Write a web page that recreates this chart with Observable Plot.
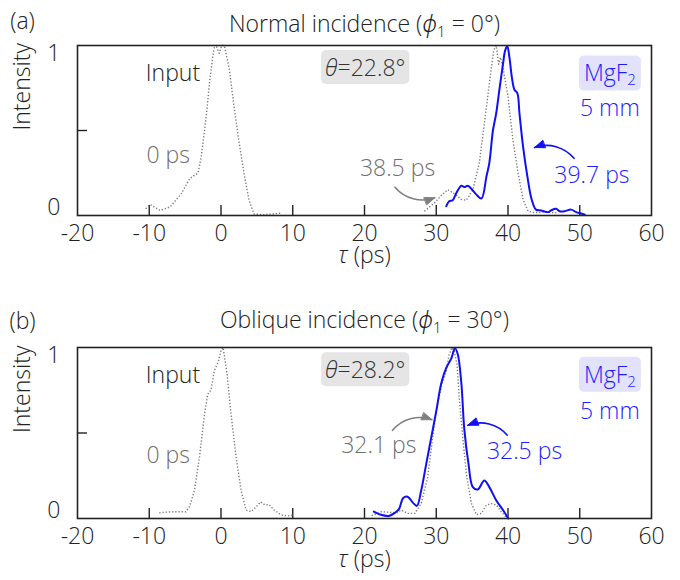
<!DOCTYPE html>
<html><head><meta charset="utf-8">
<script src="https://cdn.jsdelivr.net/npm/d3@7"></script>
<script src="https://cdn.jsdelivr.net/npm/@observablehq/plot@0.6"></script>
<style>
body{margin:0;background:#fff;}
#chart{width:680px;height:580px;}
svg{display:block;}
</style></head><body><div id="chart"></div>
<script>
// ---------- tick values ----------
const X_LABELS = [-20, -10, 0, 10, 20, 30, 40, 50, 60];
const X_INNER = [-10, 0, 10, 20, 30, 40, 50];
const Y_LABELS = [0, 1];
const Y_INNER = [0.5];

// ---------- panel (a): normal incidence ----------
const inputA = [[-10.5,-0.006],[-9.85,0.02],[-8.5,-0.017],[-7.1,0.005],[-5.5,0.093],[-4.35,0.19],[-3.2,0.225],[-2.75,0.33],[-2.06,0.59],[-1.6,0.81],[-1.15,0.98],[-0.92,1.04],[-0.6,1.04],[-0.25,1.0],[0.1,1.05],[0.46,1.05],[1.15,0.9],[1.83,0.65],[2.5,0.43],[3.2,0.225],[3.9,0.05],[4.6,-0.04],[5.9,-0.045],[7.3,-0.04],[8.25,-0.035]];
const refA = [[28.35,-0.022],[29.75,0.031],[30.7,0.079],[31.6,0.117],[32.5,0.092],[33.5,0.053],[34.2,0.049],[35.1,0.117],[36.0,0.289],[36.7,0.544],[37.4,0.804],[38.0,1.017],[38.35,1.05],[38.7,0.929],[38.95,0.973],[39.3,0.907],[40.0,0.72],[40.7,0.434],[41.4,0.225],[42.1,0.053],[42.8,-0.022],[43.7,-0.032],[45.1,-0.028],[47.0,-0.032]];
const mgA = [[31.4,0.01],[31.8,0.042],[32.3,0.049],[32.8,0.096],[33.5,0.143],[33.9,0.134],[34.4,0.143],[34.9,0.122],[35.6,0.085],[36.3,0.06],[37.0,0.203],[37.4,0.291],[37.9,0.5],[38.35,0.61],[38.8,0.764],[39.3,0.929],[39.6,1.017],[39.9,1.045],[40.2,0.973],[40.55,0.841],[40.9,0.764],[41.3,0.742],[41.6,0.61],[42.1,0.396],[42.7,0.203],[43.3,0.053],[43.9,-0.012],[44.6,-0.017],[45.6,-0.028],[46.0,-0.017],[46.7,-0.006],[47.2,-0.022],[47.9,-0.022],[48.8,-0.012],[49.5,-0.028],[50.2,-0.037],[50.7,-0.045]];

// ---------- panel (b): oblique incidence ----------
const inputB = [[-8.6,-0.014],[-7.4,-0.008],[-6.05,-0.006],[-4.9,-0.007],[-4.4,0.025],[-3.7,0.13],[-3.0,0.346],[-2.3,0.62],[-1.85,0.75],[-1.4,0.775],[-0.93,0.9],[-0.37,0.96],[0.0,1.03],[0.3,1.05],[0.84,0.88],[1.4,0.62],[2.1,0.346],[2.8,0.13],[3.5,0.003],[4.2,-0.006],[4.9,0.025],[5.5,0.057],[6.1,0.038],[6.7,0.04],[7.4,0.005],[8.4,-0.028],[9.3,-0.033],[10.2,-0.028]];
const refB = [[21.0,-0.032],[22.4,-0.006],[23.5,-0.011],[24.6,-0.011],[25.1,0.005],[26.0,-0.017],[27.0,-0.017],[27.9,0.046],[28.8,0.214],[29.5,0.47],[30.0,0.64],[30.7,0.8],[31.4,0.9],[31.8,1.006],[32.2,1.05],[32.5,1.028],[32.9,0.94],[33.2,0.73],[33.7,0.47],[34.2,0.236],[34.9,0.046],[35.6,-0.025],[36.3,-0.017],[37.0,0.036],[37.7,0.046],[38.4,0.036],[39.05,-0.006],[39.7,-0.039]];
const mgB = [[21.3,-0.006],[22.4,-0.028],[23.5,-0.032],[24.3,-0.011],[24.8,0.01],[25.4,0.082],[26.0,0.09],[26.8,0.049],[27.3,0.031],[27.9,0.13],[28.6,0.3],[29.3,0.47],[30.0,0.64],[30.7,0.82],[31.4,0.92],[32.1,0.98],[32.6,1.045],[33.0,1.006],[33.5,0.82],[33.9,0.53],[34.5,0.3],[35.1,0.152],[35.8,0.137],[36.7,0.195],[37.4,0.152],[38.35,0.068],[39.3,0.005],[40.05,-0.05]];

// ---------- annotation texts ----------
const titles = ["Normal incidence (ϕ1 = 0°)", "Oblique incidence (ϕ1 = 30°)"];
const tags = ["(a)", "(b)"];
const thetas = ["θ=22.8°", "θ=28.2°"];
const notesA = [
  {t:-6.7, v:0.87, label:"Input", kind:"dark"},
  {t:-7.35, v:0.34, label:"0 ps", kind:"gray"},
  {t:24.6, v:0.254, label:"38.5 ps", kind:"gray"},
  {t:51.7, v:0.21, label:"39.7 ps", kind:"blue"},
  {t:54.2, v:0.64, label:"5 mm", kind:"blue"}
];
const notesB = [
  {t:-6.7, v:0.87, label:"Input", kind:"dark"},
  {t:-7.35, v:0.357, label:"0 ps", kind:"gray"},
  {t:22.0, v:0.42, label:"32.1 ps", kind:"gray"},
  {t:42.3, v:0.378, label:"32.5 ps", kind:"blue"},
  {t:54.2, v:0.635, label:"5 mm", kind:"blue"}
];
const thetaPos = [{t:20.1, v:0.9}, {t:20.1, v:0.9}];
const mgPos = [{t:54.2, v:0.865}, {t:54.2, v:0.87}];
const arrowsA = [
  {t1:24.25, v1:0.133, t2:29.8, v2:0.065, kind:"gray", bend:-35},
  {t1:49.2, v1:0.32, t2:43.7, v2:0.39, kind:"blue", bend:-35}
];
const arrowsB = [
  {t1:23.9, v1:0.517, t2:29.4, v2:0.586, kind:"gray", bend:35},
  {t1:39.9, v1:0.486, t2:34.4, v2:0.55, kind:"blue", bend:-35}
];

// ---------- styling ----------
const FONT = "'Open Sans', 'Noto Sans', sans-serif";
const FS = 23;
const GRAY_LINE = "#7a7a7a";
const GRAY_TEXT = "#6e6e6e";
const DARK = "#222222";
const BLUE = "#1010f5";
const BLUE_TEXT = "#1c1cff";
const COLORS = {dark: DARK, gray: GRAY_TEXT, blue: BLUE_TEXT};

const RICH = {
  "Normal incidence (ϕ1 = 0°)": 'Normal incidence (<tspan font-style="italic">ϕ</tspan><tspan dy="5" font-size="15">1</tspan><tspan dy="-5"> = 0°)</tspan>',
  "Oblique incidence (ϕ1 = 30°)": 'Oblique incidence (<tspan font-style="italic">ϕ</tspan><tspan dy="5" font-size="15">1</tspan><tspan dy="-5"> = 30°)</tspan>',
  "θ=22.8°": '<tspan font-style="italic">θ</tspan>=22.8°',
  "θ=28.2°": '<tspan font-style="italic">θ</tspan>=28.2°',
  "MgF2": 'MgF<tspan dy="4" font-size="15">2</tspan>',
  "τ (ps)": '<tspan font-style="italic">τ</tspan> (ps)'
};

function makePanel(cfg) {
  const W = 680, ML = 77, MR = 29;
  const fh = cfg.h - cfg.mt - cfg.mb;
  const fw = W - ML - MR;
  const common = {fontSize: FS, fontWeight: 300, lineAnchor: "middle"};
  const txt = (kind, notes) => Plot.text(notes.filter(d => d.kind === kind), {
    x: "t", y: "v", text: "label", fill: COLORS[kind], ...common
  });
  const arrow = (a) => Plot.arrow([a], {
    x1: "t1", y1: "v1", x2: "t2", y2: "v2", bend: a.bend,
    stroke: a.kind === "blue" ? BLUE : "#808080", strokeWidth: 1.6, headLength: 10, headAngle: 42,
    className: "ann-arrow"
  });
  const dotted = {x: d => d[0], y: d => d[1], stroke: GRAY_LINE, strokeWidth: 1.4, strokeDasharray: "1.3,1.9", strokeLinecap: "butt"};
  return Plot.plot({
    width: W, height: cfg.h,
    marginLeft: ML, marginRight: MR, marginTop: cfg.mt, marginBottom: cfg.mb,
    style: {fontFamily: FONT, fontSize: FS + "px", fontWeight: 300, background: "#fff", color: DARK},
    x: {domain: [-20, 60]},
    y: {domain: [-0.05, 1.05]},
    marks: [
      Plot.axisX(X_LABELS, {tickSize: 0, tickPadding: 9, fontSize: FS, label: null, fill: DARK, tickFormat: d => String(d)}),
      Plot.axisY(Y_LABELS, {tickSize: 0, tickPadding: 17, fontSize: FS, label: null, fill: DARK, tickFormat: d => String(d)}),
      Plot.tickX(X_INNER, {x: d => d, insetTop: fh - 10, stroke: DARK, strokeWidth: 1.4}),
      Plot.tickY(Y_INNER, {y: d => d, insetRight: fw - 10, stroke: DARK, strokeWidth: 1.4}),
      Plot.line(cfg.input, dotted),
      Plot.line(cfg.ref, dotted),
      Plot.line(cfg.mg, {x: d => d[0], y: d => d[1], stroke: BLUE, strokeWidth: 2, curve: "catmull-rom"}),
      ...cfg.arrows.map(arrow),
      txt("dark", cfg.notes), txt("gray", cfg.notes), txt("blue", cfg.notes),
      Plot.text([cfg.theta], {x: () => cfg.thetaPos.t, y: () => cfg.thetaPos.v, text: d => d, fill: "#333", ...common, className: "box-theta"}),
      Plot.text(["MgF2"], {x: () => cfg.mgPos.t, y: () => cfg.mgPos.v, text: d => d, fill: BLUE_TEXT, ...common, className: "box-mg"}),
      Plot.text([cfg.title], {frameAnchor: "top", dy: cfg.titleDy, fill: DARK, ...common}),
      Plot.text([cfg.tag], {frameAnchor: "top-left", textAnchor: "middle", dx: -55, dy: cfg.tagDy, fill: DARK, ...common}),
      Plot.text(["Intensity"], {frameAnchor: "left", rotate: -90, dx: -55, fill: DARK, ...common}),
      Plot.text(["τ (ps)"], {frameAnchor: "bottom", dy: cfg.tauDy, fill: DARK, ...common}),
      Plot.frame({stroke: DARK, strokeWidth: 1.6})
    ]
  });
}

const host = document.getElementById("chart");
const pa = makePanel({h: 290, mt: 45, mb: 75, title: titles[0], tag: tags[0], theta: thetas[0],
  input: inputA, ref: refA, mg: mgA, notes: notesA, arrows: arrowsA, thetaPos: thetaPos[0], mgPos: mgPos[0], titleDy: -21, tagDy: -24, tauDy: 40});
const pb = makePanel({h: 290, mt: 57, mb: 62, title: titles[1], tag: tags[1], theta: thetas[1],
  input: inputB, ref: refB, mg: mgB, notes: notesB, arrows: arrowsB, thetaPos: thetaPos[1], mgPos: mgPos[1], titleDy: -27, tagDy: -26, tauDy: 41});
host.appendChild(pa);
host.appendChild(pb);

for (const svg of [pa, pb]) {
  d3.select(svg).selectAll("text").each(function () {
    const s = this.textContent;
    if (RICH[s]) this.innerHTML = RICH[s];
  });
  const boxes = [["g.box-theta text", "#e5e5e5", 4, 1], ["g.box-mg text", "#e2e2fb", 5, 1]];
  for (const [sel, fill, px, py] of boxes) {
    d3.select(svg).selectAll(sel).each(function () {
      const b = this.getBBox();
      const tr = this.getAttribute("transform");
      const r = document.createElementNS("http://www.w3.org/2000/svg", "rect");
      r.setAttribute("x", b.x - px); r.setAttribute("y", b.y - py);
      r.setAttribute("width", b.width + 2 * px); r.setAttribute("height", b.height + 2 * py);
      r.setAttribute("rx", 5); r.setAttribute("fill", fill);
      if (tr) r.setAttribute("transform", tr);
      this.parentNode.insertBefore(r, this);
    });
  }
  // turn the open arrowheads into filled triangles
  d3.select(svg).selectAll("g.ann-arrow path").each(function () {
    const d = this.getAttribute("d");
    const k = d.indexOf("M", 1);
    if (k < 0) return;
    const stroke = this.getAttribute("stroke") || this.parentNode.getAttribute("stroke");
    this.setAttribute("d", d.slice(0, k));
    const head = document.createElementNS("http://www.w3.org/2000/svg", "path");
    head.setAttribute("d", d.slice(k) + "Z");
    head.setAttribute("fill", stroke);
    head.setAttribute("stroke", stroke);
    head.setAttribute("stroke-width", 1);
    head.setAttribute("stroke-linejoin", "miter");
    this.parentNode.appendChild(head);
  });
}
</script>
</body></html>
